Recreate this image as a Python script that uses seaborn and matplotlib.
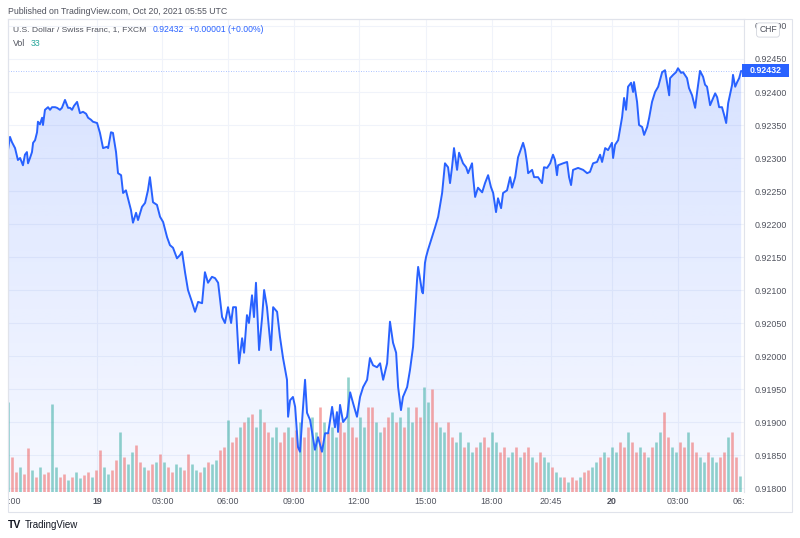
import matplotlib
matplotlib.use("Agg")
import matplotlib.pyplot as plt
import matplotlib.transforms as mtransforms
from matplotlib.colors import to_rgb
from matplotlib.patches import Rectangle
import numpy as np
import seaborn as sns

# USD/CHF 1-minute close (hours from Oct 19 00:00, chart bar time)
HOURS = [
    -4.00, -3.91, -3.82, -3.68, -3.55, -3.45, -3.32, -3.23, -3.14, -3.09,
    -3.00, -2.91, -2.86, -2.77, -2.68, -2.64, -2.55, -2.45, -2.41, -2.32,
    -2.18, -2.09, -2.00, -1.86, -1.77, -1.64, -1.55, -1.41, -1.27, -1.18,
    -1.09, -1.00, -0.86, -0.73, -0.59, -0.45, -0.36, -0.23, -0.14, 0.05,
    0.18, 0.32, 0.50, 0.55, 0.68, 0.77, 0.91, 1.00, 1.14, 1.23,
    1.36, 1.50, 1.59, 1.68, 1.82, 1.91, 2.09, 2.23, 2.36, 2.45,
    2.59, 2.77, 2.91, 3.05, 3.23, 3.36, 3.50, 3.68, 3.82, 3.91,
    4.05, 4.18, 4.36, 4.50, 4.64, 4.82, 4.95, 5.09, 5.27, 5.41,
    5.55, 5.73, 5.86, 6.00, 6.14, 6.23, 6.36, 6.50, 6.64, 6.73,
    6.86, 6.95, 7.09, 7.18, 7.27, 7.41, 7.55, 7.64, 7.77, 7.95,
    8.05, 8.23, 8.36, 8.50, 8.68, 8.73, 8.82, 8.95, 9.05, 9.18,
    9.27, 9.41, 9.50, 9.59, 9.73, 9.86, 9.95, 10.09, 10.27, 10.41,
    10.55, 10.73, 10.86, 10.95, 11.00, 11.09, 11.23, 11.41, 11.55, 11.68,
    11.86, 12.00, 12.14, 12.32, 12.45, 12.59, 12.77, 12.91, 13.05, 13.23,
    13.36, 13.50, 13.64, 13.73, 13.86, 13.95, 14.14, 14.27, 14.41, 14.50,
    14.59, 14.64, 14.82, 14.86, 14.95, 15.00, 15.09, 15.27, 15.41, 15.55,
    15.73, 15.86, 16.00, 16.09, 16.18, 16.27, 16.41, 16.50, 16.68, 16.82,
    16.91, 17.09, 17.14, 17.23, 17.36, 17.55, 17.68, 17.82, 17.95, 18.05,
    18.18, 18.27, 18.41, 18.50, 18.68, 18.82, 18.91, 19.05, 19.18, 19.41,
    19.50, 19.59, 19.64, 19.82, 19.91, 20.09, 20.27, 20.36, 20.50, 20.64,
    20.77, 20.86, 20.95, 21.00, 21.23, 21.41, 21.50, 21.59, 21.68, 21.91,
    22.14, 22.32, 22.45, 22.59, 22.77, 22.91, 23.00, 23.14, 23.27, 23.45,
    23.50, 23.59, 23.73, 23.91, 24.00, 24.09, 24.18, 24.32, 24.41, 24.45,
    24.59, 24.68, 24.82, 24.91, 25.05, 25.14, 25.27, 25.41, 25.55, 25.73,
    25.86, 25.95, 26.05, 26.09, 26.23, 26.36, 26.45, 26.59, 26.68, 26.86,
    26.95, 27.09, 27.23, 27.32, 27.45, 27.59, 27.68, 27.77, 27.91, 28.05,
    28.14, 28.23, 28.32, 28.45, 28.55, 28.64, 28.73, 28.91, 28.95, 29.05,
    29.14, 29.23, 29.32,
]
PRICE = [
    0.92312, 0.92332, 0.92324, 0.92315, 0.92297, 0.92300, 0.92289, 0.92305, 0.92309, 0.92292,
    0.92300, 0.92309, 0.92323, 0.92327, 0.92339, 0.92355, 0.92351, 0.92361, 0.92350, 0.92373,
    0.92377, 0.92373, 0.92377, 0.92377, 0.92376, 0.92373, 0.92376, 0.92388, 0.92376, 0.92376,
    0.92373, 0.92379, 0.92385, 0.92368, 0.92370, 0.92367, 0.92361, 0.92358, 0.92355, 0.92353,
    0.92338, 0.92315, 0.92317, 0.92315, 0.92339, 0.92338, 0.92309, 0.92277, 0.92274, 0.92247,
    0.92251, 0.92233, 0.92221, 0.92202, 0.92217, 0.92206, 0.92226, 0.92232, 0.92251, 0.92271,
    0.92233, 0.92229, 0.92211, 0.92203, 0.92180, 0.92168, 0.92164, 0.92148, 0.92153, 0.92158,
    0.92126, 0.92100, 0.92082, 0.92067, 0.92082, 0.92080, 0.92127, 0.92111, 0.92120, 0.92118,
    0.92111, 0.92059, 0.92050, 0.92074, 0.92050, 0.92074, 0.92074, 0.91989, 0.92027, 0.92005,
    0.92062, 0.92050, 0.92092, 0.92059, 0.92111, 0.92009, 0.92059, 0.92100, 0.92074, 0.92009,
    0.92074, 0.92067, 0.92029, 0.91997, 0.91964, 0.91908, 0.91933, 0.91938, 0.91923, 0.91862,
    0.91855, 0.91923, 0.91964, 0.91914, 0.91903, 0.91877, 0.91858, 0.91877, 0.91855, 0.91883,
    0.91883, 0.91923, 0.91892, 0.91915, 0.91885, 0.91926, 0.91900, 0.91908, 0.91945, 0.91929,
    0.91908, 0.91938, 0.91953, 0.91964, 0.91997, 0.91986, 0.91983, 0.91989, 0.91964, 0.91989,
    0.92052, 0.92020, 0.92005, 0.91953, 0.91918, 0.91938, 0.91953, 0.91979, 0.92014, 0.92065,
    0.92115, 0.92135, 0.92097, 0.92095, 0.92141, 0.92150, 0.92161, 0.92180, 0.92195, 0.92211,
    0.92247, 0.92292, 0.92286, 0.92262, 0.92286, 0.92315, 0.92282, 0.92308, 0.92292, 0.92286,
    0.92277, 0.92292, 0.92271, 0.92241, 0.92255, 0.92248, 0.92262, 0.92274, 0.92256, 0.92247,
    0.92218, 0.92239, 0.92224, 0.92247, 0.92251, 0.92271, 0.92255, 0.92271, 0.92301, 0.92323,
    0.92312, 0.92292, 0.92277, 0.92282, 0.92271, 0.92271, 0.92262, 0.92286, 0.92285, 0.92292,
    0.92305, 0.92297, 0.92274, 0.92289, 0.92292, 0.92294, 0.92271, 0.92259, 0.92282, 0.92285,
    0.92282, 0.92277, 0.92279, 0.92292, 0.92294, 0.92305, 0.92294, 0.92315, 0.92312, 0.92323,
    0.92300, 0.92320, 0.92327, 0.92362, 0.92391, 0.92373, 0.92408, 0.92414, 0.92400, 0.92415,
    0.92385, 0.92350, 0.92347, 0.92335, 0.92347, 0.92361, 0.92385, 0.92400, 0.92408, 0.92430,
    0.92433, 0.92415, 0.92395, 0.92421, 0.92426, 0.92430, 0.92436, 0.92429, 0.92430, 0.92421,
    0.92406, 0.92395, 0.92376, 0.92400, 0.92432, 0.92423, 0.92411, 0.92408, 0.92380, 0.92391,
    0.92398, 0.92392, 0.92377, 0.92377, 0.92365, 0.92353, 0.92383, 0.92411, 0.92426, 0.92408,
    0.92415, 0.92421, 0.92432,
]
LAST_CHANGE = 0.00001

# volume, one bar every ~11 minutes from 20:00 Oct 18
VOL_START = -4.0
VOL_STEP = 4 / 22
VOLUME = [
    180, 70, 40, 50, 36, 88, 44, 30, 50, 36,
    40, 176, 50, 30, 36, 24, 30, 40, 28, 34,
    40, 30, 44, 84, 50, 36, 44, 64, 120, 70,
    56, 80, 94, 60, 50, 44, 56, 60, 76, 60,
    50, 40, 56, 50, 44, 76, 56, 44, 40, 50,
    60, 56, 64, 84, 90, 144, 100, 110, 130, 140,
    150, 156, 130, 166, 140, 120, 110, 130, 100, 120,
    130, 110, 124, 140, 110, 130, 150, 120, 170, 140,
    120, 130, 110, 140, 120, 230, 130, 110, 150, 130,
    170, 170, 140, 120, 130, 150, 160, 140, 150, 130,
    170, 140, 170, 150, 210, 180, 206, 140, 130, 120,
    140, 110, 100, 120, 90, 100, 80, 90, 100, 110,
    90, 120, 100, 80, 90, 70, 80, 90, 70, 80,
    90, 70, 60, 80, 70, 60, 50, 40, 30, 30,
    20, 30, 24, 30, 40, 44, 50, 60, 70, 80,
    70, 90, 80, 100, 90, 120, 100, 80, 90, 80,
    70, 90, 100, 120, 160, 110, 90, 80, 100, 90,
    120, 100, 80, 70, 60, 80, 70, 60, 70, 80,
    110, 120, 70, 33,
]
VOL_DIR = ("udduddudud duudduduud dudduuddud uudduddudu dduudduudu "
           "duudduddud uduudduudd uddudduudu duuddudduu dduuddudud "
           "uudduudduu dduuduudud duudduudud dudduuduud uddudduudu "
           "duudduddud uduudduudd udduuduudd uddu").replace(" ", "")

PRICE_TICKS = [0.91800, 0.91850, 0.91900, 0.91950, 0.92000, 0.92050, 0.92100, 0.92150,
               0.92200, 0.92250, 0.92300, 0.92350, 0.92400, 0.92450, 0.92500]
TIME_TICKS = [-3.9, 0.05, 3.02, 5.98, 8.98, 11.95, 14.98, 17.99, 20.66, 23.45, 26.44, 29.45]
TIME_LABELS = ["20:00", "19", "03:00", "06:00", "09:00", "12:00", "15:00", "18:00",
               "20:45", "20", "03:00", "06:00"]
DAY_LABELS = {"19", "20"}

BLUE = "#2962ff"
UP = "#26a69a"
DOWN = "#ef5350"
GRID = "#f0f3fa"
FRAME = "#e0e3eb"
TEXT = "#50535e"

sns.set_theme(style="white")
plt.rcParams["font.family"] = ["Liberation Sans", "DejaVu Sans"]

W, H = 800, 538
fig = plt.figure(figsize=(W / 100, H / 100), dpi=100)


def fx(px):
    return px / W


def fy(py):
    return 1 - py / H


# main pane
ax = fig.add_axes([fx(8), fy(492), fx(744) - fx(8), fy(19) - fy(492)])
xlim = (-4.0, 29.45)
ylim = (0.91794, 0.925106)

# gradient area under the line
rgb = to_rgb(BLUE)
grad = np.zeros((256, 1, 4))
grad[..., :3] = rgb
grad[:, 0, 3] = np.linspace(0.04, 0.2, 256)
img = ax.imshow(grad, extent=[xlim[0], xlim[1], ylim[0], ylim[1]], origin="lower",
                aspect="auto", zorder=1, interpolation="bilinear")
area = ax.fill_between(HOURS, PRICE, ylim[0], color="none", lw=0)
img.set_clip_path(area.get_paths()[0], transform=ax.transData)

# volume bars in the bottom of the pane
vol_t = VOL_START + VOL_STEP * np.arange(len(VOLUME))
vol_colors = [(*to_rgb(UP), 0.5) if d == "u" else (*to_rgb(DOWN), 0.5) for d in VOL_DIR]
ax.vlines(vol_t, 0, np.array(VOLUME) / 946, colors=vol_colors, linewidth=1.9,
          transform=ax.get_xaxis_transform(), zorder=2)

sns.lineplot(x=HOURS, y=PRICE, ax=ax, color=BLUE, linewidth=1.4, zorder=3)

last_price = PRICE[-1]
ax.axhline(last_price, color=BLUE, lw=0.6, ls=(0, (1, 2)), alpha=0.5, zorder=2)

ax.set_xlim(*xlim)
ax.set_ylim(*ylim)
ax.set_xlabel("")
ax.set_ylabel("")
ax.set_xticks(TIME_TICKS[1:])
ax.set_yticks(PRICE_TICKS)
ax.set_yticklabels([f"{p:.5f}" for p in PRICE_TICKS])
ax.yaxis.tick_right()
ax.tick_params(axis="x", length=0, labelbottom=False)
ax.tick_params(axis="y", length=0, pad=8, labelsize=6.4, labelcolor=TEXT)
ax.grid(True, color=GRID, lw=0.8, zorder=0)
ax.set_axisbelow(True)
for side, sp in ax.spines.items():
    sp.set_color(FRAME)
    sp.set_linewidth(0.8)
ax.spines["bottom"].set_visible(False)

# time scale below the pane, labels clipped at its edges
ax_t = fig.add_axes([fx(8), fy(512), fx(744) - fx(8), fy(492) - fy(512)])
ax_t.set_xlim(*xlim)
ax_t.set_ylim(0, 1)
ax_t.axis("off")
for t, lab in zip(TIME_TICKS, TIME_LABELS):
    ax_t.text(t, 0.5, lab, ha="center", va="center", fontsize=6.4, color=TEXT,
              fontweight="bold" if lab in DAY_LABELS else "normal", clip_on=True)

# outer frame
fig.add_artist(Rectangle((fx(7.5), fy(512)), fx(792) - fx(7.5), fy(19) - fy(512),
                         transform=fig.transFigure, fill=False, ec=FRAME, lw=0.8))

# last price tag on the price scale
tag_tr = mtransforms.blended_transform_factory(fig.transFigure, ax.transData)
tag_h = 0.0002
fig.add_artist(Rectangle((fx(742), last_price - tag_h / 2), fx(789) - fx(742), tag_h,
                         transform=tag_tr, fc=BLUE, ec="none", zorder=9))
fig.text(fx(766), last_price, f"{last_price:.5f}", transform=tag_tr, ha="center",
         va="center", fontsize=6.4, color="white", fontweight="bold", zorder=10)
fig.text(fx(768), fy(30), "CHF", ha="center", va="center", fontsize=6.2, color=TEXT,
         bbox=dict(boxstyle="round,pad=0.3", fc="white", ec="#d1d4dc", lw=0.6), zorder=10)

# header and legend
fig.text(fx(8), fy(11), "Published on TradingView.com, Oct 20, 2021 05:55 UTC",
         ha="left", va="center", fontsize=6.3, color=TEXT)
fig.text(fx(13), fy(30), "U.S. Dollar / Swiss Franc, 1, FXCM", ha="left", va="center",
         fontsize=6.1, color=TEXT)
fig.text(fx(153), fy(30), f"{last_price:.5f}", ha="left", va="center", fontsize=6.2, color=BLUE)
fig.text(fx(189), fy(30), f"{LAST_CHANGE:+.5f} ({LAST_CHANGE / last_price * 100:+.2f}%)",
         ha="left", va="center", fontsize=6.2, color=BLUE)
fig.text(fx(13), fy(43), "Vol", ha="left", va="center", fontsize=6.3, color=TEXT)
fig.text(fx(31), fy(43), f"{VOLUME[-1]}", ha="left", va="center", fontsize=6.3, color=UP)

# footer logo
fig.text(fx(8), fy(525), "TV", ha="left", va="center", fontsize=7.5, color="#131722",
         fontweight="heavy")
fig.text(fx(25), fy(525), "TradingView", ha="left", va="center", fontsize=7, color="#131722")

fig.savefig("out.png", dpi=100)
